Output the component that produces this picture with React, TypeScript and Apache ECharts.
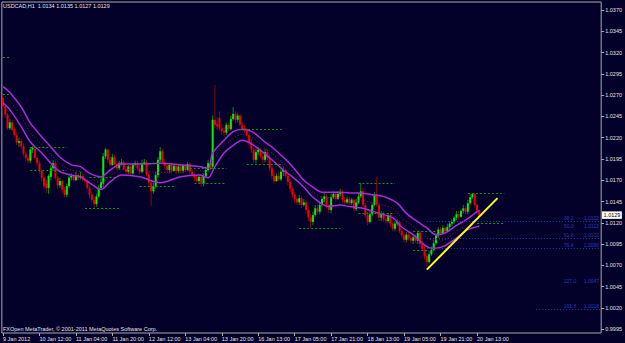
import React, { useEffect, useRef } from 'react';
import * as echarts from 'echarts';

const FONT = '"Liberation Sans", Arial, sans-serif';

const symbolTitle = 'USDCAD,H1  1.0134 1.0135 1.0127 1.0129';
const footerText = 'FXOpen MetaTrader, © 2001-2011 MetaQuotes Software Corp.';

const timeLabels = ['9 Jan 2012', '10 Jan 12:00', '11 Jan 04:00', '11 Jan 20:00', '12 Jan 12:00', '13 Jan 04:00', '13 Jan 20:00', '16 Jan 13:00', '17 Jan 05:00', '17 Jan 21:00', '18 Jan 13:00', '19 Jan 05:00', '19 Jan 21:00', '20 Jan 13:00'];
const priceTicks = [0.9995, 1.002, 1.0045, 1.007, 1.0095, 1.012, 1.0145, 1.017, 1.0195, 1.022, 1.0245, 1.027, 1.0295, 1.032, 1.0345, 1.037];

const opens = [
  1.0267, 1.0257, 1.0247, 1.0231, 1.0238, 1.0230, 1.0223, 1.0214, 1.0216, 1.0210,
  1.0201, 1.0196, 1.0193, 1.0206, 1.0207, 1.0196, 1.0190, 1.0181, 1.0173, 1.0166,
  1.0161, 1.0174, 1.0184, 1.0190, 1.0173, 1.0164, 1.0169, 1.0159, 1.0153, 1.0163,
  1.0173, 1.0175, 1.0170, 1.0176, 1.0173, 1.0175, 1.0171, 1.0169, 1.0161, 1.0153,
  1.0147, 1.0142, 1.0151, 1.0161, 1.0166, 1.0198, 1.0206, 1.0194, 1.0188, 1.0197,
  1.0189, 1.0184, 1.0190, 1.0191, 1.0183, 1.0180, 1.0186, 1.0178, 1.0188, 1.0190,
  1.0184, 1.0180, 1.0190, 1.0191, 1.0177, 1.0167, 1.0157, 1.0163, 1.0176, 1.0194,
  1.0204, 1.0191, 1.0187, 1.0182, 1.0188, 1.0181, 1.0187, 1.0181, 1.0186, 1.0181,
  1.0187, 1.0182, 1.0189, 1.0180, 1.0175, 1.0173, 1.0169, 1.0174, 1.0166, 1.0175,
  1.0182, 1.0190, 1.0186, 1.0241, 1.0236, 1.0243, 1.0231, 1.0228, 1.0226, 1.0235,
  1.0230, 1.0242, 1.0248, 1.0241, 1.0246, 1.0235, 1.0231, 1.0228, 1.0223, 1.0215,
  1.0206, 1.0194, 1.0203, 1.0206, 1.0198, 1.0194, 1.0203, 1.0196, 1.0184, 1.0175,
  1.0169, 1.0175, 1.0171, 1.0180, 1.0182, 1.0175, 1.0168, 1.0160, 1.0153, 1.0148,
  1.0144, 1.0149, 1.0141, 1.0144, 1.0135, 1.0126, 1.0121, 1.0129, 1.0137, 1.0133,
  1.0141, 1.0148, 1.0151, 1.0141, 1.0135, 1.0150, 1.0154, 1.0148, 1.0154, 1.0156,
  1.0147, 1.0144, 1.0148, 1.0143, 1.0147, 1.0136, 1.0144, 1.0151, 1.0157, 1.0141,
  1.0129, 1.0121, 1.0130, 1.0141, 1.0153, 1.0141, 1.0126, 1.0130, 1.0124, 1.0122,
  1.0129, 1.0119, 1.0113, 1.0119, 1.0121, 1.0110, 1.0105, 1.0100, 1.0106, 1.0102,
  1.0099, 1.0103, 1.0099, 1.0108, 1.0095, 1.0089, 1.0081, 1.0074, 1.0083, 1.0088,
  1.0096, 1.0105, 1.0112, 1.0108, 1.0114, 1.0110, 1.0115, 1.0119, 1.0121, 1.0126,
  1.0130, 1.0127, 1.0134, 1.0137, 1.0133, 1.0143, 1.0150, 1.0154, 1.0141, 1.0134,
];
const closes = [
  1.0257, 1.0247, 1.0231, 1.0238, 1.0229, 1.0223, 1.0214, 1.0216, 1.0210, 1.0201,
  1.0196, 1.0193, 1.0206, 1.0208, 1.0196, 1.0190, 1.0181, 1.0173, 1.0163, 1.0161,
  1.0175, 1.0184, 1.0190, 1.0173, 1.0164, 1.0169, 1.0159, 1.0153, 1.0163, 1.0173,
  1.0175, 1.0170, 1.0176, 1.0173, 1.0175, 1.0171, 1.0169, 1.0161, 1.0153, 1.0147,
  1.0142, 1.0151, 1.0161, 1.0168, 1.0198, 1.0206, 1.0194, 1.0188, 1.0197, 1.0189,
  1.0184, 1.0190, 1.0191, 1.0183, 1.0180, 1.0186, 1.0178, 1.0188, 1.0190, 1.0184,
  1.0180, 1.0190, 1.0191, 1.0177, 1.0167, 1.0157, 1.0163, 1.0176, 1.0194, 1.0204,
  1.0191, 1.0187, 1.0182, 1.0188, 1.0181, 1.0187, 1.0181, 1.0186, 1.0181, 1.0187,
  1.0182, 1.0189, 1.0180, 1.0175, 1.0173, 1.0169, 1.0174, 1.0166, 1.0175, 1.0182,
  1.0190, 1.0184, 1.0241, 1.0235, 1.0233, 1.0231, 1.0228, 1.0226, 1.0235, 1.0230,
  1.0242, 1.0248, 1.0241, 1.0246, 1.0235, 1.0231, 1.0228, 1.0223, 1.0215, 1.0206,
  1.0194, 1.0203, 1.0206, 1.0198, 1.0194, 1.0203, 1.0196, 1.0184, 1.0175, 1.0169,
  1.0175, 1.0171, 1.0180, 1.0182, 1.0175, 1.0168, 1.0160, 1.0153, 1.0148, 1.0144,
  1.0149, 1.0141, 1.0144, 1.0135, 1.0126, 1.0121, 1.0129, 1.0137, 1.0133, 1.0141,
  1.0148, 1.0151, 1.0141, 1.0135, 1.0150, 1.0154, 1.0148, 1.0154, 1.0156, 1.0147,
  1.0144, 1.0148, 1.0143, 1.0147, 1.0136, 1.0144, 1.0151, 1.0157, 1.0141, 1.0129,
  1.0121, 1.0130, 1.0141, 1.0153, 1.0141, 1.0126, 1.0130, 1.0124, 1.0122, 1.0129,
  1.0119, 1.0113, 1.0119, 1.0121, 1.0110, 1.0105, 1.0100, 1.0106, 1.0102, 1.0099,
  1.0103, 1.0099, 1.0108, 1.0095, 1.0089, 1.0081, 1.0074, 1.0083, 1.0088, 1.0096,
  1.0105, 1.0112, 1.0108, 1.0114, 1.0110, 1.0115, 1.0119, 1.0121, 1.0126, 1.0130,
  1.0127, 1.0134, 1.0137, 1.0133, 1.0143, 1.0150, 1.0154, 1.0141, 1.0135, 1.0129,
];
const highs = [
  1.0270, 1.0260, 1.0249, 1.0242, 1.0241, 1.0233, 1.0226, 1.0220, 1.0219, 1.0213,
  1.0203, 1.0198, 1.0209, 1.0210, 1.0208, 1.0198, 1.0193, 1.0183, 1.0175, 1.0170,
  1.0177, 1.0188, 1.0194, 1.0193, 1.0175, 1.0173, 1.0171, 1.0162, 1.0166, 1.0176,
  1.0178, 1.0177, 1.0180, 1.0178, 1.0180, 1.0177, 1.0174, 1.0171, 1.0163, 1.0156,
  1.0150, 1.0154, 1.0164, 1.0173, 1.0202, 1.0208, 1.0207, 1.0198, 1.0201, 1.0200,
  1.0193, 1.0193, 1.0195, 1.0194, 1.0187, 1.0188, 1.0188, 1.0190, 1.0193, 1.0193,
  1.0188, 1.0194, 1.0195, 1.0194, 1.0180, 1.0169, 1.0167, 1.0180, 1.0197, 1.0209,
  1.0207, 1.0195, 1.0190, 1.0190, 1.0190, 1.0189, 1.0189, 1.0188, 1.0188, 1.0189,
  1.0189, 1.0191, 1.0191, 1.0183, 1.0178, 1.0176, 1.0177, 1.0177, 1.0178, 1.0186,
  1.0194, 1.0193, 1.0246, 1.0282, 1.0244, 1.0251, 1.0236, 1.0233, 1.0238, 1.0238,
  1.0246, 1.0256, 1.0251, 1.0249, 1.0248, 1.0238, 1.0235, 1.0231, 1.0227, 1.0219,
  1.0209, 1.0207, 1.0209, 1.0208, 1.0202, 1.0207, 1.0206, 1.0200, 1.0188, 1.0180,
  1.0178, 1.0180, 1.0183, 1.0186, 1.0184, 1.0178, 1.0171, 1.0163, 1.0156, 1.0151,
  1.0153, 1.0151, 1.0148, 1.0147, 1.0139, 1.0130, 1.0133, 1.0141, 1.0141, 1.0144,
  1.0151, 1.0155, 1.0154, 1.0144, 1.0154, 1.0157, 1.0156, 1.0157, 1.0160, 1.0159,
  1.0150, 1.0151, 1.0150, 1.0149, 1.0149, 1.0148, 1.0155, 1.0167, 1.0161, 1.0143,
  1.0133, 1.0134, 1.0144, 1.0156, 1.0174, 1.0144, 1.0134, 1.0134, 1.0128, 1.0131,
  1.0131, 1.0122, 1.0122, 1.0124, 1.0123, 1.0114, 1.0108, 1.0109, 1.0109, 1.0106,
  1.0107, 1.0106, 1.0110, 1.0110, 1.0099, 1.0093, 1.0084, 1.0087, 1.0092, 1.0100,
  1.0108, 1.0115, 1.0115, 1.0117, 1.0116, 1.0119, 1.0122, 1.0124, 1.0128, 1.0134,
  1.0134, 1.0136, 1.0141, 1.0140, 1.0147, 1.0154, 1.0155, 1.0155, 1.0143, 1.0135,
];
const lows = [
  1.0255, 1.0243, 1.0229, 1.0229, 1.0227, 1.0221, 1.0211, 1.0209, 1.0207, 1.0198,
  1.0193, 1.0190, 1.0190, 1.0202, 1.0194, 1.0187, 1.0178, 1.0169, 1.0160, 1.0155,
  1.0154, 1.0170, 1.0181, 1.0170, 1.0160, 1.0161, 1.0155, 1.0150, 1.0150, 1.0161,
  1.0170, 1.0168, 1.0169, 1.0170, 1.0171, 1.0169, 1.0167, 1.0159, 1.0149, 1.0144,
  1.0137, 1.0139, 1.0149, 1.0159, 1.0162, 1.0195, 1.0190, 1.0186, 1.0187, 1.0186,
  1.0182, 1.0182, 1.0187, 1.0181, 1.0177, 1.0177, 1.0176, 1.0176, 1.0186, 1.0182,
  1.0177, 1.0178, 1.0188, 1.0175, 1.0163, 1.0140, 1.0154, 1.0160, 1.0173, 1.0191,
  1.0189, 1.0183, 1.0180, 1.0178, 1.0178, 1.0180, 1.0177, 1.0178, 1.0178, 1.0178,
  1.0180, 1.0181, 1.0177, 1.0173, 1.0169, 1.0167, 1.0166, 1.0162, 1.0163, 1.0173,
  1.0180, 1.0182, 1.0183, 1.0231, 1.0229, 1.0228, 1.0223, 1.0222, 1.0223, 1.0228,
  1.0228, 1.0240, 1.0237, 1.0238, 1.0233, 1.0228, 1.0226, 1.0221, 1.0211, 1.0202,
  1.0190, 1.0190, 1.0200, 1.0196, 1.0190, 1.0191, 1.0193, 1.0181, 1.0171, 1.0166,
  1.0168, 1.0169, 1.0169, 1.0175, 1.0173, 1.0164, 1.0156, 1.0149, 1.0144, 1.0141,
  1.0141, 1.0137, 1.0139, 1.0131, 1.0122, 1.0114, 1.0117, 1.0127, 1.0130, 1.0130,
  1.0139, 1.0144, 1.0137, 1.0131, 1.0131, 1.0148, 1.0146, 1.0147, 1.0151, 1.0144,
  1.0141, 1.0142, 1.0141, 1.0141, 1.0134, 1.0134, 1.0142, 1.0149, 1.0139, 1.0126,
  1.0117, 1.0119, 1.0128, 1.0139, 1.0139, 1.0122, 1.0122, 1.0121, 1.0119, 1.0120,
  1.0115, 1.0110, 1.0110, 1.0116, 1.0108, 1.0102, 1.0097, 1.0097, 1.0099, 1.0096,
  1.0095, 1.0096, 1.0095, 1.0092, 1.0087, 1.0077, 1.0069, 1.0072, 1.0081, 1.0086,
  1.0094, 1.0102, 1.0106, 1.0106, 1.0108, 1.0109, 1.0113, 1.0116, 1.0119, 1.0123,
  1.0124, 1.0126, 1.0131, 1.0130, 1.0130, 1.0141, 1.0148, 1.0139, 1.0133, 1.0127,
];

// Envelope indicator: [bar index] -> price
const envUpperIdx = [0, 3, 8, 12, 17, 21, 25, 30, 34, 38, 43, 47, 52, 60, 69, 78, 86, 90, 92, 97, 101, 105, 110, 114, 118, 123, 127, 132, 136, 140, 148, 152, 156, 162, 168, 173, 177, 181, 186, 190, 194, 199, 203, 207, 209];
const envUpper = [1.0280, 1.0273, 1.0256, 1.0237, 1.0221, 1.0209, 1.0197, 1.0188, 1.0186, 1.0178, 1.0174, 1.0182, 1.0189, 1.0189, 1.0190, 1.0188, 1.0186, 1.0184, 1.0202, 1.0217, 1.0227, 1.0230, 1.0226, 1.0217, 1.0209, 1.0197, 1.0186, 1.0170, 1.0162, 1.0156, 1.0156, 1.0155, 1.0155, 1.0153, 1.0150, 1.0143, 1.0131, 1.0123, 1.0114, 1.0106, 1.0108, 1.0117, 1.0123, 1.0131, 1.0135];
const envLowerIdx = [0, 3, 8, 12, 17, 21, 25, 30, 34, 38, 43, 47, 52, 60, 69, 78, 86, 90, 93, 97, 101, 105, 110, 114, 118, 123, 127, 132, 136, 143, 148, 152, 158, 165, 171, 175, 180, 184, 188, 193, 199, 204, 209];
const envLower = [1.0261, 1.0253, 1.0233, 1.0215, 1.0202, 1.0190, 1.0180, 1.0176, 1.0174, 1.0167, 1.0159, 1.0168, 1.0176, 1.0174, 1.0167, 1.0174, 1.0176, 1.0173, 1.0186, 1.0202, 1.0211, 1.0217, 1.0211, 1.0203, 1.0194, 1.0182, 1.0174, 1.0162, 1.0150, 1.0139, 1.0141, 1.0139, 1.0137, 1.0131, 1.0126, 1.0115, 1.0106, 1.0096, 1.0090, 1.0092, 1.0102, 1.0112, 1.0116];
const envMidIdx = [0, 3, 8, 12, 17, 21, 25, 30, 34, 38, 43, 47, 52, 60, 69, 78, 86, 90, 92, 97, 101, 105, 110, 114, 118, 123, 127, 132, 136, 140, 148, 152, 158, 165, 171, 175, 180, 184, 188, 193, 199, 204, 209];
const envMid = [1.0271, 1.0263, 1.0245, 1.0226, 1.0212, 1.0200, 1.0189, 1.0182, 1.0180, 1.0173, 1.0167, 1.0175, 1.0183, 1.0182, 1.0179, 1.0181, 1.0181, 1.0179, 1.0193, 1.0210, 1.0219, 1.0224, 1.0219, 1.0210, 1.0202, 1.0190, 1.0180, 1.0166, 1.0156, 1.0150, 1.0149, 1.0147, 1.0146, 1.0142, 1.0137, 1.0126, 1.0116, 1.0107, 1.0100, 1.0100, 1.0110, 1.0118, 1.0126];

// dashed session high/low levels: start bar, end bar, price
const levelStart = [0, 0, 12, 12, 38, 36, 60, 60, 82, 84, 104, 107, 130, 156, 156, 180, 180, 204, 208];
const levelEnd = [3, 3, 28, 28, 50, 51, 69, 76, 98, 98, 123, 123, 148, 172, 172, 191, 187, 220, 220];
const levelPrice = [1.0314, 1.0271, 1.0209, 1.0182, 1.0173, 1.0137, 1.0190, 1.0163, 1.0184, 1.0167, 1.0230, 1.0189, 1.0114, 1.0167, 1.0131, 1.0110, 1.0088, 1.0155, 1.0120];

// Fibonacci levels
const fibLevels = ['38.2', '50.0', '61.8', '76.4', '127.0', '161.8'];
const fibPrices = [1.0122, 1.0112, 1.0102, 1.0090, 1.0047, 1.0018];
const fibLineShown = [true, false, true, true, false, true];

// trend line (bar, price)
const trendFrom = [186, 1.0065];
const trendTo = [217, 1.0149];

const lastClose = 1.0129;

const SLOTS = 263;
const STEP = 16;

function buildOption(): any {
  const categories = Array.from({ length: SLOTS }, (_, i) =>
    i % STEP === 0 && timeLabels[i / STEP] !== undefined ? timeLabels[i / STEP] : ''
  );
  const candleRows = opens.map((o, i) => [i, o, closes[i], lows[i], highs[i]]);
  const lastSlot = SLOTS - 1;
  const lastBar = opens.length - 1;
  const fibStart = [186, 186, 186, 186, 186, 234];

  const txt = '#e4e4e4';
  const fibColor = '#2a3bb8';
  const clear = 'rgba(0,0,0,0)';

  return {
    animation: false,
    backgroundColor: '#030029',
    title: {
      text: symbolTitle,
      left: 3,
      top: 3,
      padding: 0,
      textStyle: { color: txt, fontSize: 5.5, fontWeight: 'normal', fontFamily: FONT },
    },
    graphic: [
      {
        type: 'text',
        left: 3,
        top: 326,
        style: { text: footerText, fill: txt, font: `5.5px ${FONT}` },
      },
    ],
    grid: {
      left: 1,
      right: 22,
      top: 2,
      bottom: 10,
      show: true,
      borderColor: '#aaaaaa',
      borderWidth: 1,
      backgroundColor: 'transparent',
    },
    xAxis: {
      type: 'category',
      data: categories,
      boundaryGap: true,
      axisLine: { show: false },
      axisTick: {
        show: true,
        alignWithLabel: true,
        length: 3,
        lineStyle: { color: '#aaaaaa' },
        interval: (_i: number, v: string) => v !== '',
      },
      axisLabel: {
        color: txt,
        fontSize: 5.5,
        fontFamily: FONT,
        align: 'left',
        margin: 3,
        interval: (_i: number, v: string) => v !== '',
      },
      splitLine: { show: false },
    },
    yAxis: {
      type: 'value',
      position: 'right',
      min: 0.99905,
      max: 1.03794,
      scale: true,
      axisLine: { show: false },
      axisTick: { show: true, length: 3, lineStyle: { color: '#aaaaaa' }, customValues: priceTicks },
      axisLabel: {
        color: txt,
        fontSize: 5.5,
        fontFamily: FONT,
        margin: 4,
        customValues: priceTicks,
        formatter: (v: number) => v.toFixed(4),
      },
      splitLine: { show: false },
    },
    series: [
      {
        type: 'custom',
        name: 'USDCAD',
        data: candleRows,
        encode: { x: 0, y: [1, 2, 3, 4] },
        renderItem: (_params: any, api: any) => {
          const i = api.value(0);
          const o = api.value(1);
          const c = api.value(2);
          const l = api.value(3);
          const h = api.value(4);
          const po = api.coord([i, o]);
          const pc = api.coord([i, c]);
          const pl = api.coord([i, l]);
          const ph = api.coord([i, h]);
          const up = c >= o;
          const bw = 2;
          const top = Math.min(po[1], pc[1]);
          const hgt = Math.max(1, Math.abs(po[1] - pc[1]));
          return {
            type: 'group',
            children: [
              {
                type: 'line',
                shape: { x1: po[0], y1: ph[1], x2: po[0], y2: pl[1] },
                style: { stroke: up ? '#0a8c0a' : '#8c0a0a', lineWidth: 1 },
              },
              {
                type: 'rect',
                shape: { x: po[0] - bw / 2, y: top, width: bw, height: hgt },
                style: { fill: up ? '#00f000' : '#f00000' },
              },
            ],
          };
        },
        z: 2,
      },
      {
        type: 'line',
        name: 'Envelope upper',
        data: envUpperIdx.map((x, k) => [x, envUpper[k]]),
        showSymbol: false,
        smooth: 0.3,
        lineStyle: { color: '#a92cd6', width: 1.5 },
        z: 3,
        markLine: {
          silent: true,
          symbol: ['none', 'none'],
          label: { show: false },
          lineStyle: { color: '#0b9a0b', width: 1, type: [2, 2] },
          data: levelStart.map((s, k) => [
            { coord: [s, levelPrice[k]] },
            { coord: [levelEnd[k], levelPrice[k]] },
          ]),
        },
      },
      {
        type: 'line',
        name: 'Envelope lower',
        data: envLowerIdx.map((x, k) => [x, envLower[k]]),
        showSymbol: false,
        smooth: 0.3,
        lineStyle: { color: '#a92cd6', width: 1.5 },
        z: 3,
        markLine: {
          silent: true,
          symbol: ['none', 'none'],
          lineStyle: { color: fibColor, width: 1, type: [1, 2] },
          label: {
            show: true,
            position: 'insideEndTop',
            distance: 1,
            color: fibColor,
            fontSize: 5,
            fontFamily: FONT,
            rich: {
              a: { width: 20, align: 'left', color: fibColor, fontSize: 5, fontFamily: FONT },
              b: { color: fibColor, fontSize: 5, fontFamily: FONT },
            },
          },
          data: fibPrices.map((p, k) => {
            const ls = { color: fibLineShown[k] ? fibColor : clear, width: 1, type: [1, 2] };
            const lb = { formatter: `{a|${fibLevels[k]}}{b|${p.toFixed(4)}}` };
            return [
              { coord: [fibStart[k], p], lineStyle: ls, label: lb },
              { coord: [lastSlot, p], lineStyle: ls, label: lb },
            ];
          }),
        },
      },
      {
        type: 'line',
        name: 'Envelope middle',
        data: envMidIdx.map((x, k) => [x, envMid[k]]),
        showSymbol: false,
        smooth: 0.3,
        lineStyle: { color: '#9a1464', width: 1, type: [1, 2] },
        z: 3,
        markLine: {
          silent: true,
          symbol: ['none', 'none'],
          data: [
            [
              { coord: trendFrom, lineStyle: { color: '#ffff00', width: 2, type: 'solid' }, label: { show: false } },
              { coord: trendTo, lineStyle: { color: '#ffff00', width: 2, type: 'solid' }, label: { show: false } },
            ],
          ],
        },
      },
      {
        type: 'line',
        name: 'Bid',
        data: [[lastBar, lastClose], [lastSlot, lastClose]],
        showSymbol: false,
        lineStyle: { color: clear, width: 0 },
        z: 5,
        endLabel: {
          show: true,
          distance: 2,
          formatter: () => lastClose.toFixed(4),
          backgroundColor: '#ffffff',
          color: '#000000',
          fontSize: 5.5,
          fontFamily: FONT,
          padding: [1, 1.5, 0.5, 1.5],
        },
      },
    ],
  };
}

export default function App() {
  const ref = useRef<HTMLDivElement>(null);
  useEffect(() => {
    document.body.style.margin = '0';
    const chart = echarts.init(ref.current as HTMLDivElement, undefined, { renderer: 'svg' });
    chart.setOption(buildOption());
    return () => {
      chart.dispose();
    };
  }, []);
  return <div ref={ref} style={{ width: 625, height: 343 }} />;
}
